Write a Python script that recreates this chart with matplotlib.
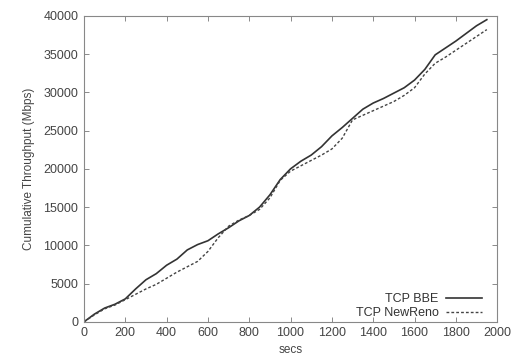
import numpy as np
import matplotlib
matplotlib.use('Agg')
import matplotlib.pyplot as plt

# time samples (secs)
secs = [0, 50, 100, 150, 200, 250, 300, 350, 400, 450, 500, 550, 600, 650, 700,
        750, 800, 850, 900, 950, 1000, 1050, 1100, 1150, 1200, 1250, 1300, 1350,
        1400, 1450, 1500, 1550, 1600, 1650, 1700, 1750, 1800, 1850, 1900, 1950]

# cumulative throughput (Mbps)
bbe = [0, 1000, 1800, 2300, 3000, 4300, 5500, 6300, 7400, 8200, 9400, 10100,
       10600, 11500, 12300, 13200, 13900, 15000, 16600, 18600, 20000, 21000,
       21800, 22900, 24300, 25400, 26600, 27800, 28600, 29200, 29900, 30600,
       31600, 33000, 34900, 35800, 36700, 37700, 38700, 39500]
newreno = [0, 900, 1700, 2200, 2900, 3600, 4300, 4900, 5700, 6500, 7200, 7900,
           9200, 11000, 12500, 13300, 13900, 14700, 16200, 18500, 19700, 20400,
           21100, 21800, 22600, 24000, 26400, 27000, 27600, 28200, 28800, 29600,
           30600, 32400, 33800, 34600, 35500, 36400, 37300, 38200]

plt.rcParams['font.family'] = ['Liberation Sans', 'DejaVu Sans']

fig = plt.figure(figsize=(5.12, 3.6), dpi=100)
ax = fig.add_axes([0.164, 0.106, 0.807, 0.85])

ax.plot(secs, bbe, '-', color='#333333', lw=1.2, label='TCP BBE')
ax.plot(secs, newreno, '--', color='#444444', lw=1.0, dashes=(2, 1.5), label='TCP NewReno')

ax.set_xlim(0, 2000)
ax.set_ylim(0, 40000)
ax.set_xticks(range(0, 2001, 200))
ax.set_yticks(range(0, 40001, 5000))
ax.tick_params(direction='in', top=True, right=True, length=3.5, width=0.6,
               color='#777777', labelsize=9, labelcolor='#444444', pad=4)
for s in ax.spines.values():
    s.set_color('#888888')
    s.set_linewidth(0.8)

ax.set_xlabel('secs', fontsize=8.5, color='#444444', labelpad=3)
ax.set_ylabel('Cumulative Throughput (Mbps)', fontsize=8.5, color='#444444', labelpad=6)

leg = ax.legend(loc='lower right', bbox_to_anchor=(0.97, 0.0), frameon=False,
                markerfirst=False, fontsize=9, handlelength=2.9, borderaxespad=0,
                labelspacing=0.15, handletextpad=0.6, borderpad=0.2)
for t in leg.get_texts():
    t.set_color('#333333')

plt.savefig('out.png', dpi=100)
